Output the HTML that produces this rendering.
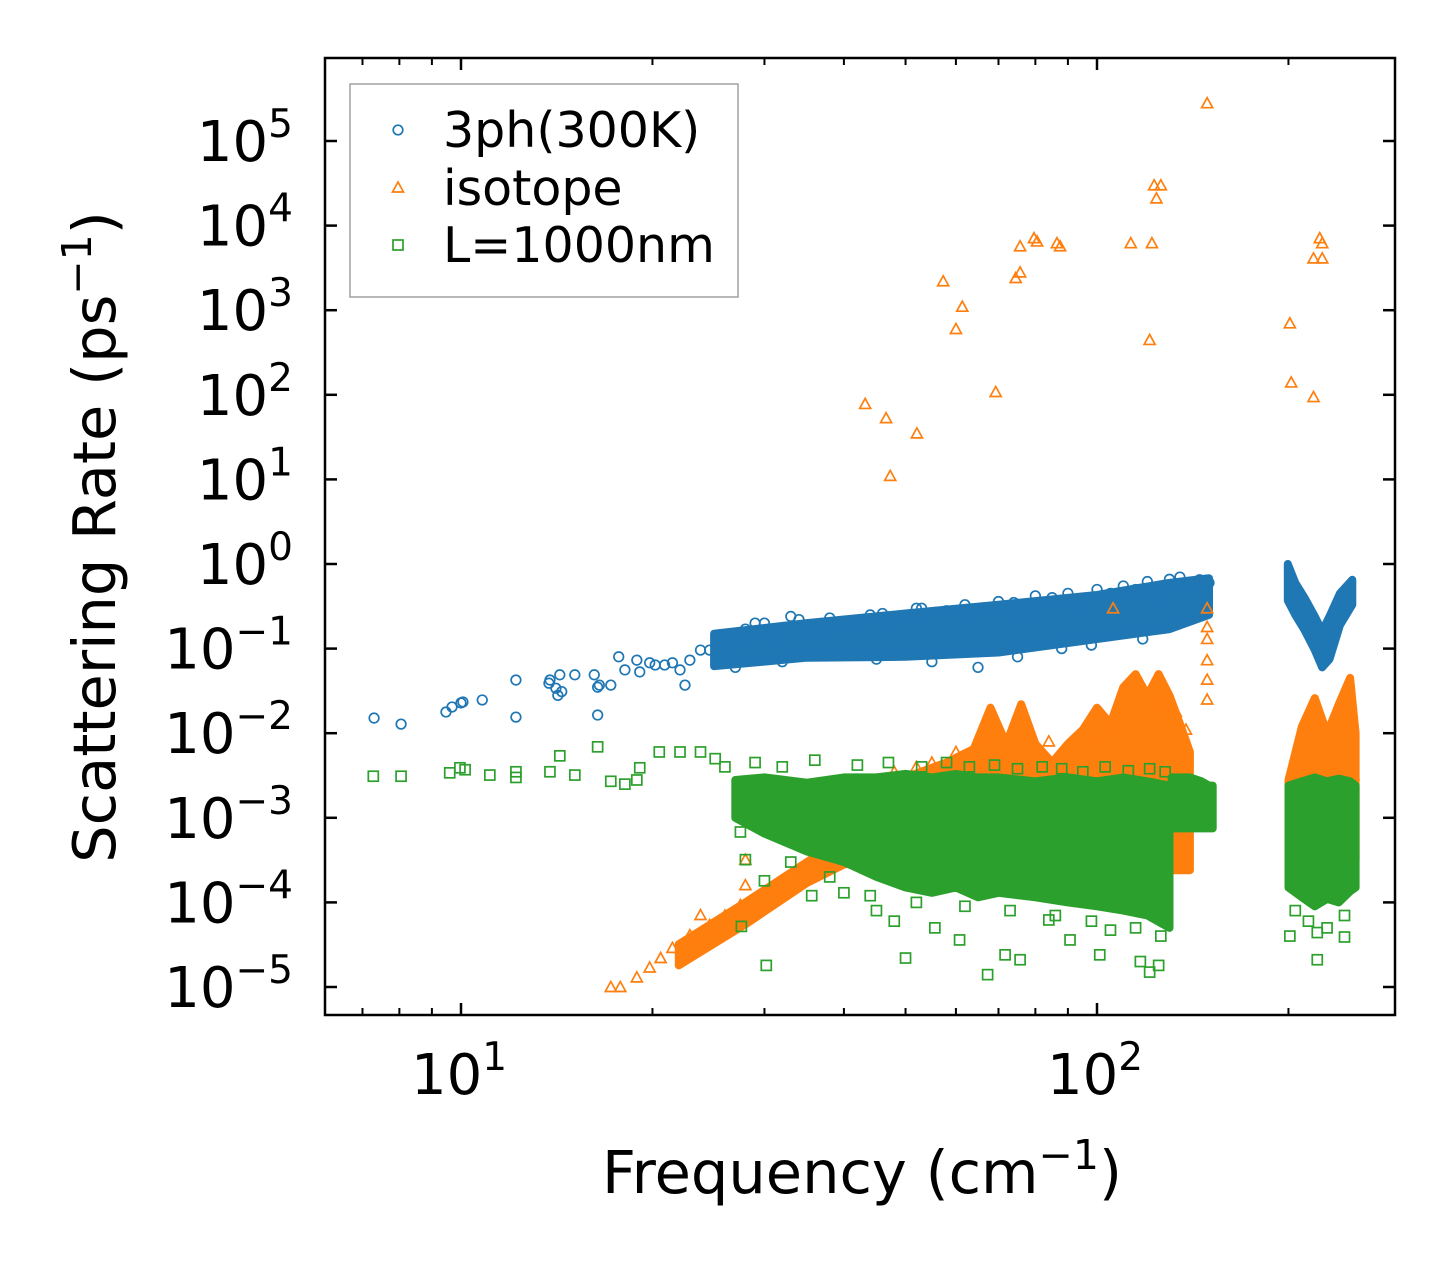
<!DOCTYPE html>
<html><head><meta charset="utf-8"><style>
html,body{margin:0;padding:0;background:#fff;}
svg{display:block;font-family:"DejaVu Sans","Liberation Sans",sans-serif;}
</style></head><body>
<svg id="chart" width="1455" height="1265" viewBox="0 0 1455 1265" xmlns="http://www.w3.org/2000/svg">
<rect width="1455" height="1265" fill="#fff"/>
<g id="marks"></g>
<g id="axes"></g>
<g id="legend">
 <rect x="350" y="84" width="388" height="213" fill="#fff" fill-opacity="0.8" stroke="#a0a0a0" stroke-width="1.5"/>
 <circle cx="398" cy="130" r="4.8" fill="none" stroke="#1f77b4" stroke-width="1.7"/>
 <text x="443" y="147" font-size="49">3ph(300K)</text>
 <path d="M398,182 L403.5,192 L392.5,192 Z" fill="none" stroke="#ff7f0e" stroke-width="1.7"/>
 <text x="443" y="205" font-size="49">isotope</text>
 <rect x="393" y="240" width="10" height="10" fill="none" stroke="#2ca02c" stroke-width="1.7"/>
 <text x="443" y="262" font-size="49">L=1000nm</text>
</g>
<text x="862" y="1193" font-size="59" text-anchor="middle">Frequency (cm<tspan dy="-24" font-size="41">−1</tspan><tspan dy="24">)</tspan></text>
<text transform="translate(115,537) rotate(-90)" font-size="59" text-anchor="middle">Scattering Rate (ps<tspan dy="-24" font-size="41">−1</tspan><tspan dy="24">)</tspan></text>
</svg>
<script>
// ---- data ----
const blueF = [7.3,8.05,9.47,9.68,10,10.07,10.8,12.2,12.2,13.75,13.8,14.1,14.2,14.3,14.4,15.1,16.2,16.4,16.4,16.5,17.2,17.7,18.1,18.9,19.1,19.8,20.2,20.9,21.5,22.1,22.5,22.9,23.8,24.6,25.5,27,29,31,33,36,40,44,48,53,58,63,70,77,85,95,105,115,125,140,150,26,28,30,34,38,42,46,52,56,62,66,74,80,90,100,110,120,130,135,145,27,32,45,55,65,75,88,98,118];
const blueR = [0.0151,0.0128,0.0178,0.0204,0.0228,0.0234,0.0247,0.0425,0.0155,0.039,0.0425,0.034,0.028,0.049,0.031,0.049,0.049,0.035,0.0164,0.037,0.037,0.08,0.056,0.073,0.053,0.068,0.064,0.064,0.068,0.056,0.037,0.073,0.096,0.096,0.145,0.11,0.2,0.13,0.24,0.16,0.19,0.25,0.2,0.3,0.28,0.22,0.36,0.25,0.4,0.3,0.45,0.5,0.4,0.6,0.6,0.12,0.17,0.2,0.22,0.23,0.2,0.26,0.3,0.27,0.33,0.29,0.35,0.42,0.45,0.5,0.55,0.62,0.66,0.7,0.65,0.06,0.07,0.075,0.07,0.06,0.08,0.1,0.11,0.13];
const blueBandF = [25,35,50,70,100,130,150];
const blueBandLo = [0.062,0.078,0.08,0.09,0.13,0.17,0.25];
const blueBandHi = [0.15,0.2,0.26,0.33,0.43,0.6,0.68];
const blueBand2F = [199.5,205,212,220,226,232,241,252];
const blueBand2Lo = [0.37,0.25,0.166,0.096,0.06,0.075,0.19,0.33];
const blueBand2Hi = [1.0,0.6,0.4,0.24,0.16,0.24,0.45,0.65];

const orangeF = [149,123,126,124,113,122,79.6,80.5,86.5,87.5,75.7,75.7,74.5,57.3,61.4,60.0,121,69.3,43.2,46.6,52.1,47.3,201,202,219,219,226,224,226,106,149,149,149,149,149,149,17.2,17.8,18.9,19.8,20.6,21.5,22.9,23.8,24.6,26,27.5,28,29,30.6,32.3,34.1,36.1,38.1,40.3,28,251,251,253,45,48,52,55,60,66,72,78,84,92,98,104,112,118,127,133,138];
const orangeR = [2.8e5,3.0e4,3.0e4,2.1e4,6.2e3,6.2e3,7.1e3,6.5e3,6.2e3,5.7e3,5.7e3,2.8e3,2.4e3,2.2e3,1.1e3,600,445,108,78,53,35,11,700,140,94,4.1e3,4.1e3,7.1e3,6.2e3,0.30,0.30,0.18,0.13,0.073,0.043,0.025,1e-5,1e-5,1.3e-5,1.7e-5,2.2e-5,2.9e-5,4.1e-5,7.1e-5,5.4e-5,7e-5,9.3e-5,1.6e-4,1.1e-4,1.4e-4,1.8e-4,2.4e-4,3.1e-4,4.1e-4,5.4e-4,3.2e-4,0.0143,0.0063,0.0032,2.5e-3,3.5e-3,4e-3,4.5e-3,6e-3,9e-3,7e-3,0.011,0.008,0.007,0.009,0.012,0.02,0.03,0.025,0.018,0.011];
const orangeBandF = [22,28,35,40,45,50,58,64,68,72,76,80,85,90,95,100,105,110,115,120,125,130,135,140];
const orangeBandLo = [1.8e-5,5.5e-5,1.7e-4,2.8e-4,3.2e-4,2.4e-4,2.4e-4,2.4e-4,2.4e-4,2.4e-4,2.4e-4,2.4e-4,2.4e-4,2.4e-4,2.4e-4,2.4e-4,2.4e-4,2.4e-4,2.4e-4,2.4e-4,2.4e-4,2.4e-4,2.4e-4,2.4e-4];
const orangeBandHi = [3.2e-5,1.0e-4,3.0e-4,6.0e-4,1.5e-3,3.0e-3,4.5e-3,6.5e-3,0.02,7.5e-3,0.022,7.5e-3,4.5e-3,7.5e-3,0.011,0.02,0.013,0.035,0.05,0.028,0.05,0.028,0.013,6.0e-3];
const orangeBand2F = [200,210,220,230,240,250,255];
const orangeBand2Lo = [3.2e-4,3.2e-4,3.2e-4,3.2e-4,3.2e-4,3.2e-4,3.2e-4];
const orangeBand2Hi = [2.8e-3,0.012,0.026,0.01,0.022,0.045,0.01];

const greenF = [7.28,8.05,9.6,9.96,10.15,11.1,12.2,12.2,13.8,14.3,15.1,16.4,17.2,18.1,18.9,19.1,20.5,22.1,23.8,25.1,28,27.5,30,30.2,27.6,35.6,50,55.6,67.3,75.7,71.7,101,117,121,125,201,222,222,245,90.7,60.8,84,105,45,48,40,38,26,29,32,36,42,47,53,58,63,69,75,82,88,95,103,112,121,128,33,44,52,62,73,86,98,115,126,205,215,230,245];
const greenR = [3.1e-3,3.1e-3,3.4e-3,3.9e-3,3.7e-3,3.2e-3,3.5e-3,3.0e-3,3.5e-3,5.4e-3,3.2e-3,6.9e-3,2.7e-3,2.5e-3,2.8e-3,3.9e-3,6.0e-3,6.0e-3,6.0e-3,5.0e-3,3.2e-4,6.8e-4,1.8e-4,1.8e-5,5.2e-5,1.2e-4,2.2e-5,5e-5,1.4e-5,2.1e-5,2.4e-5,2.4e-5,2e-5,1.5e-5,1.8e-5,4e-5,2.1e-5,4.4e-5,3.9e-5,3.6e-5,3.6e-5,6.2e-5,4.7e-5,8e-5,6e-5,1.3e-4,2e-4,4e-3,4.5e-3,4e-3,4.8e-3,4.2e-3,4.5e-3,4e-3,4.5e-3,4e-3,4.2e-3,3.8e-3,4e-3,3.8e-3,3.5e-3,4e-3,3.6e-3,3.8e-3,3.5e-3,3e-4,1.2e-4,1e-4,9e-5,8e-5,7e-5,6e-5,5e-5,4e-5,8e-5,6e-5,5e-5,7e-5];
const greenBandF = [27,30,35,40,45,50,55,60,65,70,80,90,100,110,120,130];
const greenBandLo = [1.0e-3,6.5e-4,4.0e-4,3.0e-4,2.0e-4,1.5e-4,1.3e-4,1.5e-4,1.15e-4,1.3e-4,1.15e-4,1.0e-4,9e-5,8e-5,7e-5,5e-5];
const greenBandHi = [2.8e-3,3.0e-3,2.6e-3,3.0e-3,3.0e-3,3.3e-3,3.0e-3,3.3e-3,3.0e-3,3.0e-3,2.7e-3,3.0e-3,2.7e-3,3.0e-3,2.7e-3,2.4e-3];
const greenBand2F = [131,140,146,150,152];
const greenBand2Lo = [7.5e-4,7.5e-4,7.5e-4,7.5e-4,7.5e-4];
const greenBand2Hi = [3.0e-3,3.0e-3,2.7e-3,2.4e-3,2.4e-3];
const greenBand3F = [200,210,220,230,240,250,255];
const greenBand3Lo = [1.5e-4,1.15e-4,9e-5,1.1e-4,1.0e-4,1.35e-4,1.5e-4];
const greenBand3Hi = [2.4e-3,2.7e-3,3.0e-3,2.7e-3,2.9e-3,2.7e-3,2.4e-3];

const yTicks = [-5,-4,-3,-2,-1,0,1,2,3,4,5];
const xMajor = [1,2];
const xMinor = [7,8,9,20,30,40,50,60,70,80,90,200];

// ---- axes functions ----
const X0=325,X1=1395,Y0=58,Y1=1015;
function sx(f){return 461+636*(Math.log10(f)-1);}
function sy(r){return 987-84.6*(Math.log10(r)+5);}
const NS='http://www.w3.org/2000/svg';
const marks=document.getElementById('marks');
const axes=document.getElementById('axes');
function mk(tag,attrs,parent){const e=document.createElementNS(NS,tag);for(const k in attrs)e.setAttribute(k,attrs[k]);parent.appendChild(e);return e;}

function band(F,Lo,Hi,color,name){
  let d='';
  for(let i=0;i<F.length;i++)d+=(i?'L':'M')+sx(F[i]).toFixed(1)+','+sy(Hi[i]).toFixed(1);
  for(let i=F.length-1;i>=0;i--)d+='L'+sx(F[i]).toFixed(1)+','+sy(Lo[i]).toFixed(1);
  d+='Z';
  const p=mk('path',{d:d,fill:color,stroke:color,'stroke-width':8,'stroke-linejoin':'round'},marks);
  
  
}
function pts(F,R,kind,color,name){
  const g=mk('g',{},marks);
  
  
  for(let i=0;i<F.length;i++){
    const x=sx(F[i]),y=sy(R[i]);let e;
    if(kind==='c')e=mk('circle',{cx:x,cy:y,r:4.8,fill:'none',stroke:color,'stroke-width':1.7},g);
    else if(kind==='t')e=mk('path',{d:`M${x},${y-5.5}L${x+5.5},${y+4.5}L${x-5.5},${y+4.5}Z`,fill:'none',stroke:color,'stroke-width':1.7},g);
    else e=mk('rect',{x:x-5,y:y-5,width:10,height:10,fill:'none',stroke:color,'stroke-width':1.7},g);
    
    
  }
}
band(blueBandF,blueBandLo,blueBandHi,'#1f77b4','3ph-band');
band(blueBand2F,blueBand2Lo,blueBand2Hi,'#1f77b4','3ph-band-high');
pts(blueF,blueR,'c','#1f77b4','3ph-points');
band(orangeBandF,orangeBandLo,orangeBandHi,'#ff7f0e','isotope-band');
band(orangeBand2F,orangeBand2Lo,orangeBand2Hi,'#ff7f0e','isotope-band-high');
pts(orangeF,orangeR,'t','#ff7f0e','isotope-points');
band(greenBandF,greenBandLo,greenBandHi,'#2ca02c','boundary-band');
band(greenBand2F,greenBand2Lo,greenBand2Hi,'#2ca02c','boundary-band-2');
band(greenBand3F,greenBand3Lo,greenBand3Hi,'#2ca02c','boundary-band-high');
pts(greenF,greenR,'s','#2ca02c','boundary-points');

// frame
const fr=mk('rect',{x:X0,y:Y0,width:X1-X0,height:Y1-Y0,fill:'none',stroke:'#000','stroke-width':2.5},axes);


yTicks.forEach(e=>{
  const y=987-84.6*(e+5);
  mk('line',{x1:X0,x2:X0+12,y1:y,y2:y,stroke:'#000','stroke-width':2.5},axes);
  mk('line',{x1:X1,x2:X1-12,y1:y,y2:y,stroke:'#000','stroke-width':2.5},axes);
  const t=mk('text',{x:293,y:y+20,'font-size':56,'text-anchor':'end'},axes);
  
  
  t.innerHTML='10<tspan dy="-24" font-size="39">'+(e<0?'−'+(-e):e)+'</tspan>';
});
xMajor.forEach(e=>{
  const x=461+636*(e-1);
  mk('line',{x1:x,x2:x,y1:Y1,y2:Y1-12,stroke:'#000','stroke-width':2.5},axes);
  mk('line',{x1:x,x2:x,y1:Y0,y2:Y0+12,stroke:'#000','stroke-width':2.5},axes);
  const t=mk('text',{x:x-2,y:1094,'font-size':56,'text-anchor':'middle'},axes);
  
  
  t.innerHTML='10<tspan dy="-24" font-size="39">'+e+'</tspan>';
});
xMinor.forEach(f=>{
  const x=sx(f);
  mk('line',{x1:x,x2:x,y1:Y1,y2:Y1-7,stroke:'#000','stroke-width':2},axes);
  mk('line',{x1:x,x2:x,y1:Y0,y2:Y0+7,stroke:'#000','stroke-width':2},axes);
});
</script>
</body></html>
